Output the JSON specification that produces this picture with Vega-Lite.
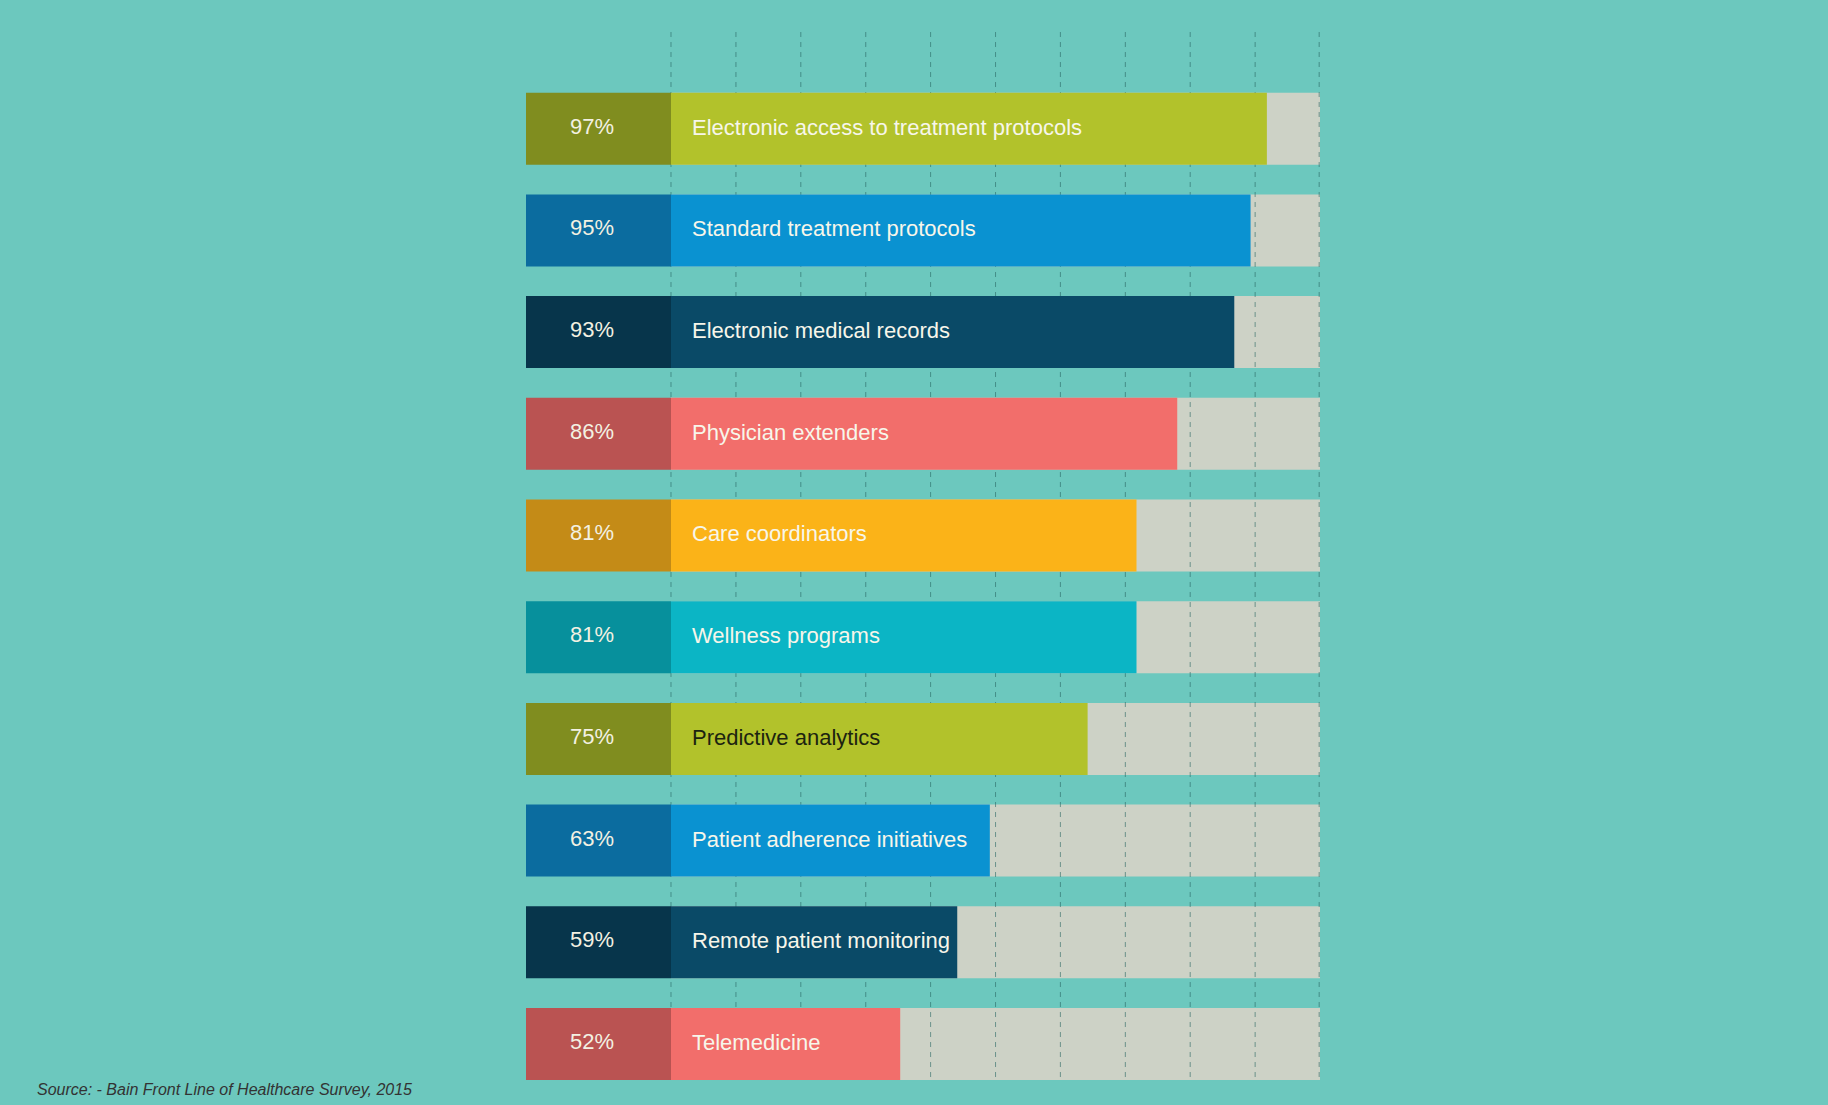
{
  "$schema": "https://vega.github.io/schema/vega-lite/v6.json",
  "width": 794,
  "height": 1048,
  "autosize": {"type": "none"},
  "padding": {"left": 526, "top": 32, "right": 508, "bottom": 25},
  "background": "#6cc8be",
  "config": {"view": {"stroke": null}},
  "title": {
    "text": "Source: - Bain Front Line of Healthcare Survey, 2015",
    "orient": "bottom",
    "anchor": "start",
    "frame": "group",
    "offset": 1,
    "dx": -489,
    "font": "Liberation Sans",
    "fontSize": 16,
    "fontStyle": "italic",
    "fontWeight": "normal",
    "color": "#333333"
  },
  "data": {
    "values": [
      {"item": "Electronic access to treatment protocols", "pct": 0.97},
      {"item": "Standard treatment protocols", "pct": 0.95},
      {"item": "Electronic medical records", "pct": 0.93},
      {"item": "Physician extenders", "pct": 0.86},
      {"item": "Care coordinators", "pct": 0.81},
      {"item": "Wellness programs", "pct": 0.81},
      {"item": "Predictive analytics", "pct": 0.75},
      {"item": "Patient adherence initiatives", "pct": 0.63},
      {"item": "Remote patient monitoring", "pct": 0.59},
      {"item": "Telemedicine", "pct": 0.52}
    ]
  },
  "encoding": {
    "y": {
      "field": "item",
      "type": "nominal",
      "sort": null,
      "axis": null,
      "scale": {"paddingInner": 0.292, "paddingOuter": 0.2984, "align": 1}
    }
  },
  "layer": [
    {
      "mark": {"type": "rect", "color": "#cdd2c6"},
      "encoding": {
        "x": {"datum": 0.2387, "type": "quantitative", "scale": {"domain": [0.06075, 1.0352], "nice": false, "zero": false}, "axis": null},
        "x2": {"datum": 1.0352}
      }
    },
    {
      "data": {"values": [
        {"g": 0.2387}, {"g": 0.3184}, {"g": 0.3980}, {"g": 0.4777}, {"g": 0.5573},
        {"g": 0.6370}, {"g": 0.7166}, {"g": 0.7963}, {"g": 0.8759}, {"g": 0.9556}, {"g": 1.0342}
      ]},
      "mark": {"type": "rule", "color": "#2a6864", "strokeWidth": 1, "strokeDash": [5, 5], "opacity": 0.6},
      "encoding": {
        "y": null,
        "x": {"field": "g", "type": "quantitative"}
      }
    },
    {
      "mark": {"type": "bar"},
      "encoding": {
        "x": {"field": "pct", "type": "quantitative"},
        "x2": {"datum": 0.2387},
        "color": {
          "field": "item",
          "type": "nominal",
          "legend": null,
          "scale": {
            "domain": ["Electronic access to treatment protocols", "Standard treatment protocols", "Electronic medical records", "Physician extenders", "Care coordinators", "Wellness programs", "Predictive analytics", "Patient adherence initiatives", "Remote patient monitoring", "Telemedicine"],
            "range": ["#b2c22b", "#0a92d1", "#0a4a67", "#f26e6b", "#fbb318", "#0bb5c5", "#b2c22b", "#0a92d1", "#0a4a67", "#f26e6b"]
          }
        }
      }
    },
    {
      "mark": {"type": "rect"},
      "encoding": {
        "x": {"datum": 0.06075, "type": "quantitative"},
        "x2": {"datum": 0.2387},
        "fill": {
          "field": "item",
          "type": "nominal",
          "legend": null,
          "scale": {
            "domain": ["Electronic access to treatment protocols", "Standard treatment protocols", "Electronic medical records", "Physician extenders", "Care coordinators", "Wellness programs", "Predictive analytics", "Patient adherence initiatives", "Remote patient monitoring", "Telemedicine"],
            "range": ["#808d1f", "#0b6c9f", "#07354b", "#ba5352", "#c48b17", "#07909c", "#808d1f", "#0b6c9f", "#07354b", "#ba5352"]
          }
        }
      }
    },
    {
      "mark": {"type": "text", "font": "Liberation Sans", "fontSize": 22, "align": "center", "baseline": "middle", "dy": -2, "color": "#f3f1e2"},
      "encoding": {
        "x": {"datum": 0.1418, "type": "quantitative"},
        "text": {"field": "pct", "type": "quantitative", "format": ".0%"}
      }
    },
    {
      "mark": {"type": "text", "font": "Liberation Sans", "fontSize": 22, "align": "left", "baseline": "middle", "dx": 21, "dy": -1},
      "encoding": {
        "x": {"datum": 0.2387, "type": "quantitative"},
        "text": {"field": "item", "type": "nominal"},
        "color": {"condition": {"test": "datum.item === 'Predictive analytics'", "value": "#1c2410"}, "value": "#f7f6ea"}
      }
    }
  ]
}
